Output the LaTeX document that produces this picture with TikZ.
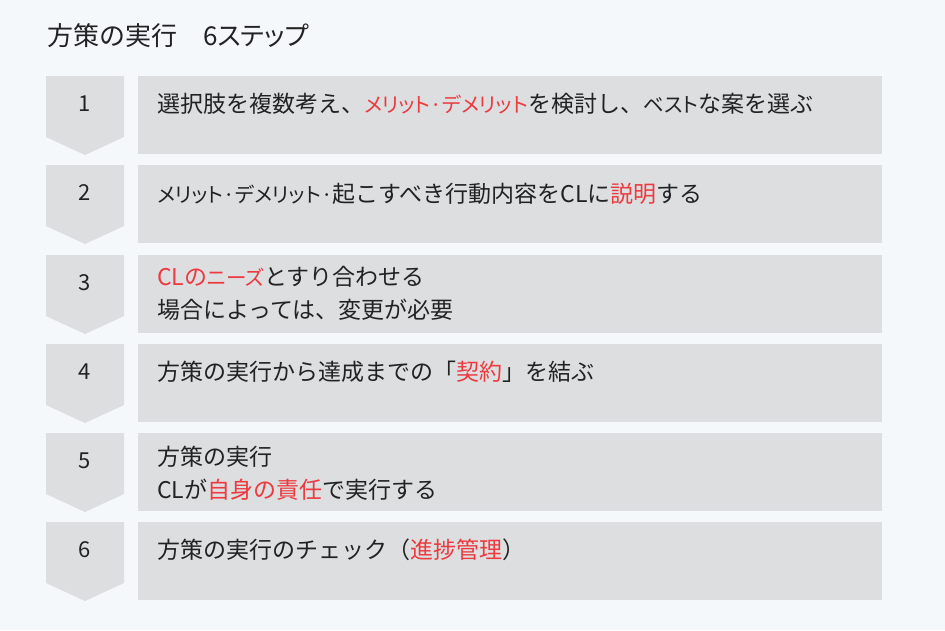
\documentclass[tikz,border=0pt]{standalone}
\usepackage{fontspec}
\setmainfont{Noto Sans CJK JP}
\newfontfamily\kfont[RawFeature=+palt]{Noto Sans CJK JP}
\definecolor{bg}{HTML}{F4F8FB}
\definecolor{boxc}{HTML}{DDDEE0}
\definecolor{hl}{HTML}{EC3A3F}
\definecolor{ink}{HTML}{222222}
\newcommand{\hiw}[1]{\textcolor{hl}{#1}}
\newcommand{\kt}[1]{{\kfont\fontsize{20.5}{33}\selectfont #1}}
\begin{document}
\begin{tikzpicture}[x=1pt,y=-1pt,
  txt/.style={anchor=west, font=\fontsize{23}{33}\selectfont, text=ink, inner sep=0pt, align=left},
  num/.style={font=\fontsize{22}{22}\selectfont, text=ink, inner sep=0pt},
  ttl/.style={anchor=west, font=\fontsize{26}{26}\selectfont, text=ink, inner sep=0pt}]
\fill[bg] (0,0) rectangle (945,630);
\useasboundingbox (0,0) rectangle (945,630);
\node[ttl] (title) at (47,36) {方策の実行　6{\kfont ステップ}};
\foreach \i/\t in {1/76,2/165,3/255,4/344,5/433,6/522} {
  \fill[boxc] (46,\t) -- (124,\t) -- (124,\t+61) -- (85,\t+79) -- (46,\t+61) -- cycle;
  \fill[boxc] (138,\t) rectangle (882,\t+78);
  \node[num] (n\i) at (85,\t+28) {\i};
}
\node[txt] (t1) at (157,104) {選択肢を複数考え、\hiw{\kt{メリット·デメリット}}を検討し、\kt{ベスト}な案を選ぶ};
\node[txt] (t2) at (157,194) {\kt{メリット·デメリット·}起こすべき行動内容をCLに\hiw{説明}する};
\node[txt] (t3) at (157,293) {\hiw{CLの\kt{ニーズ}}とすり合わせる\\場合によっては、変更が必要};
\node[txt] (t4) at (157,372) {方策の実行から達成までの「\hiw{契約}」を結ぶ};
\node[txt] (t5) at (157,473) {方策の実行\\CLが\hiw{自身の責任}で実行する};
\node[txt] (t6) at (157,550) {方策の実行のチェック（\hiw{進捗管理}）};
\end{tikzpicture}
\end{document}
